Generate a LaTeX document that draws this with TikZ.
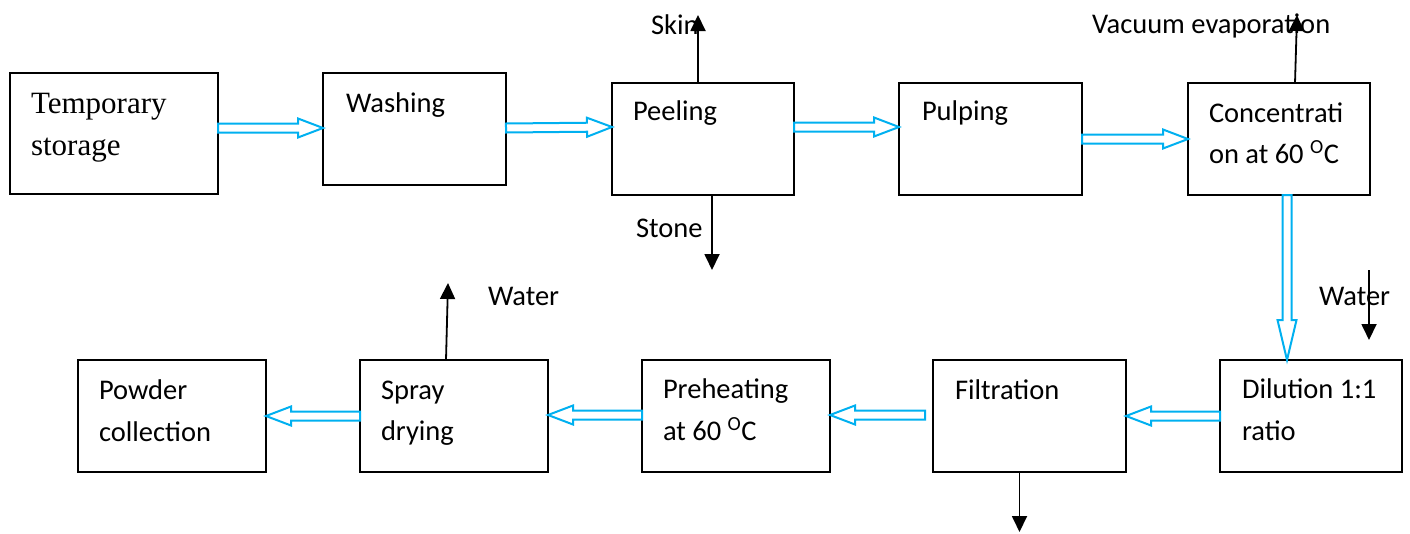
\documentclass[tikz,border=0pt]{standalone}
\usepackage{fontspec}
\setmainfont{Carlito}
\newfontfamily\tnr{Liberation Serif}
\usetikzlibrary{calc,arrows.meta}
\definecolor{wordblue}{RGB}{0,176,240}
\newcommand\holarrow[3][25pt]{%
  \path #2 coordinate (hA) #3 coordinate (hB);
  \coordinate (hH) at ($(hB)!#1!(hA)$);
  \draw[hol] ($(hA)!4.5pt!90:(hB)$) -- ($(hH)!4.5pt!-90:(hA)$) -- ($(hH)!9.5pt!-90:(hA)$)
    -- (hB) -- ($(hH)!9.5pt!90:(hA)$) -- ($(hH)!4.5pt!90:(hA)$) -- ($(hA)!4.5pt!-90:(hB)$) -- cycle;
}
\tikzset{
  box/.style={draw, line width=2pt, rectangle, inner sep=0pt, outer sep=0pt, anchor=north west},
  lbl/.style={anchor=base west, inner sep=0pt, outer sep=0pt, font=\fontsize{28.5}{34}\selectfont},
  serif/.style={anchor=base west, inner sep=0pt, outer sep=0pt, font=\fontsize{31}{37}\tnr},
  outarrow/.style={line width=1.8pt, -{Triangle[length=16pt,width=15pt]}},
  hol/.style={draw=wordblue, line width=2pt, line join=miter, fill=white}
}
\begin{document}
\begin{tikzpicture}[x=1pt,y=-1pt]
\useasboundingbox (0,0) rectangle (1410,533);
% boxes
\node[box, minimum width=208pt, minimum height=121pt] (ts) at (10,73) {};
\node[box, minimum width=183pt, minimum height=112pt] (wash) at (323,73) {};
\node[box, minimum width=182pt, minimum height=112pt] (peel) at (612,83) {};
\node[box, minimum width=183pt, minimum height=112pt] (pulp) at (899,83) {};
\node[box, minimum width=182pt, minimum height=112pt] (conc) at (1188,83) {};
\node[box, minimum width=182pt, minimum height=112pt] (dil) at (1220,360) {};
\node[box, minimum width=193pt, minimum height=112pt] (filt) at (933,360) {};
\node[box, minimum width=188pt, minimum height=112pt] (pre) at (642,360) {};
\node[box, minimum width=188pt, minimum height=112pt] (spray) at (360,360) {};
\node[box, minimum width=188pt, minimum height=112pt] (powd) at (78,360) {};
% texts
\node[serif] (tsA) at ($(ts.north west)+(21,40)$) {Temporary};
\node[serif] (tsB) at ($(ts.north west)+(21,82)$) {storage};
\node[lbl] (washA) at ($(wash.north west)+(23,39)$) {Washing};
\node[lbl] (peelA) at ($(peel.north west)+(21,37)$) {Peeling};
\node[lbl] (pulpA) at ($(pulp.north west)+(23,37)$) {Pulping};
\node[lbl] (concA) at ($(conc.north west)+(21,39)$) {Concentrati};
\node[lbl] (concB) at ($(conc.north west)+(21,80)$) {on at 60 \textsuperscript{O}C};
\node[lbl] (dilA) at ($(dil.north west)+(22,38)$) {Dilution 1:1};
\node[lbl] (dilB) at ($(dil.north west)+(22,80)$) {ratio};
\node[lbl] (filtA) at ($(filt.north west)+(22,39)$) {Filtration};
\node[lbl] (preA) at ($(pre.north west)+(21,38)$) {Preheating};
\node[lbl] (preB) at ($(pre.north west)+(21,80)$) {at 60 \textsuperscript{O}C};
\node[lbl] (sprayA) at ($(spray.north west)+(21,39)$) {Spray};
\node[lbl] (sprayB) at ($(spray.north west)+(21,80)$) {drying};
\node[lbl] (powdA) at ($(powd.north west)+(21,39)$) {Powder};
\node[lbl] (powdB) at ($(powd.north west)+(21,81)$) {collection};
% side labels
\node[lbl] (skin) at (651,34) {Skin};
\node[lbl] (stone) at (636,237) {Stone};
\node[lbl] (vac) at (1092,33) {Vacuum evaporation};
\node[lbl] (waterR) at (1319,305) {Water};
\node[lbl] (waterL) at (488,305) {Water};
% hollow process arrows
\coordinate (cdA) at ($(conc.south)+(8,0)$);
\holarrow{($(ts.east |- wash.east)+(0,-1)$)}{($(wash.west)+(0,-1)$)}
\holarrow{($(wash.east)+(0,-1)$)}{($(peel.west)+(0,-12)$)}
\holarrow{($(peel.east)+(0,-12)$)}{($(pulp.west)+(0,-12)$)}
\holarrow{(pulp.east)}{(conc.west)}
\holarrow[40pt]{(cdA)}{(cdA |- dil.north)}
\holarrow{(dil.west)}{(filt.east)}
\holarrow{($(filt.west)+(-8,-1)$)}{($(pre.east)+(0,-1)$)}
\holarrow{($(pre.west)+(0,-1)$)}{($(spray.east)+(0,-1)$)}
\holarrow{(spray.west)}{(powd.east)}
% black output arrows
\coordinate (skinEnd) at ($(peel.north)+(-5,-68)$);
\coordinate (stoneEnd) at ($(peel.south)+(9,75)$);
\coordinate (vacEnd) at ($(conc.north)+(18,-68)$);
\coordinate (waterInA) at (1369,270);
\coordinate (waterInB) at (1369,340);
\coordinate (sprayEnd) at ($(spray.north)+(-6,-77)$);
\coordinate (filtEnd) at ($(filt.south)+(-10,60)$);
\draw[outarrow] ($(peel.north)+(-5,0)$) -- (skinEnd);
\draw[outarrow] ($(peel.south)+(9,0)$) -- (stoneEnd);
\draw[outarrow] ($(conc.north)+(16,0)$) -- (vacEnd);
\draw[outarrow] (waterInA) -- (waterInB);
\draw[outarrow] ($(spray.north)+(-8,0)$) -- (sprayEnd);
\draw[outarrow] ($(filt.south)+(-10,0)$) -- (filtEnd);
\end{tikzpicture}
\end{document}
